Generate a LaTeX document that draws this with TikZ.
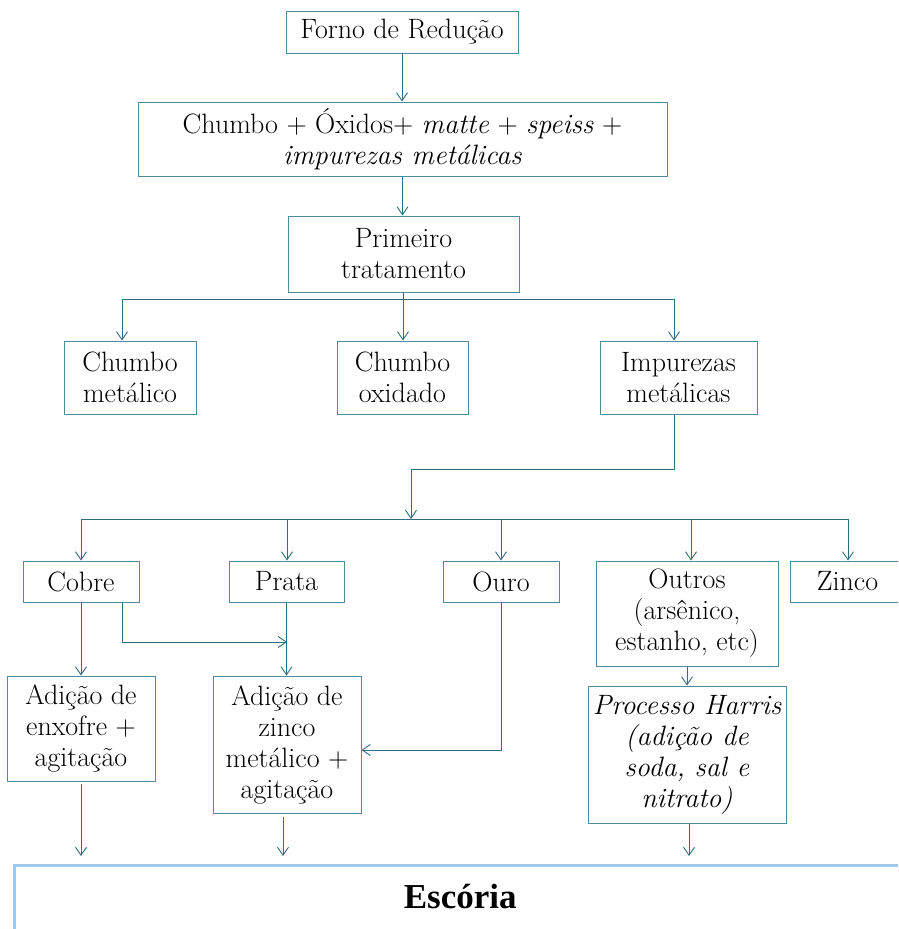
\documentclass[tikz,border=0pt]{standalone}
\usepackage{fontspec}
\newfontfamily\escfont{Liberation Serif}
\usetikzlibrary{arrows.meta,calc}
\definecolor{conn}{RGB}{47,110,128}
\definecolor{boxc}{RGB}{78,140,158}
\definecolor{escc}{RGB}{160,200,235}
\tikzset{
  bx/.style={draw=boxc, line width=1pt, inner sep=0pt, align=center,
    font=\fontsize{28}{31}\selectfont},
  ln/.style={draw=conn, line width=0.9pt},
  ar/.style={ln, -{Straight Barb[length=8pt,width=11pt,line width=0.9pt]}},
}
\begin{document}
\begin{tikzpicture}[x=1pt,y=-1pt]
\useasboundingbox (0,0) rectangle (898,929);
\clip (0,0) rectangle (898,929);
% boxes
\node[bx, minimum width=232, minimum height=42] (forno) at (402,32) {Forno de Redução};
\node[bx, minimum width=529, minimum height=74] (chumbo) at (402.5,139)
  {Chumbo + Óxidos+ \textit{matte} + \textit{speiss} +\\ \textit{impurezas metálicas}};
\node[bx, minimum width=231, minimum height=76] (primeiro) at (403.5,254) {Primeiro\\tratamento};
\node[bx, minimum width=132, minimum height=73] (cmet) at (130,377.5) {Chumbo\\metálico};
\node[bx, minimum width=131, minimum height=73] (cox) at (402.5,377.5) {Chumbo\\oxidado};
\node[bx, minimum width=157, minimum height=73] (imp) at (678.5,377.5) {Impurezas\\metálicas};
\node[bx, minimum width=116, minimum height=41] (cobre) at (81,581.5) {Cobre};
\node[bx, minimum width=115, minimum height=41] (prata) at (286.5,581.5) {Prata};
\node[bx, minimum width=116, minimum height=41] (ouro) at (501,581.5) {Ouro};
\node[bx, minimum width=182, minimum height=105] (outros) at (687,613.5) {Outros\\(arsênico,\\estanho, etc)};
\node[bx, minimum width=115, minimum height=41] (zinco) at (847.5,581.5) {Zinco};
\node[bx, minimum width=148, minimum height=105] (enx) at (81,728.5) {Adição de\\enxofre +\\agitação};
\node[bx, minimum width=148, minimum height=137] (zad) at (287,744.5) {Adição de\\zinco\\metálico +\\agitação};
\node[bx, minimum width=198, minimum height=137] (harris) at (687,754.5)
  {\itshape Processo Harris\\\itshape (adição de\\\itshape soda, sal e\\\itshape nitrato)};
\node[draw=escc, line width=2.5pt, inner sep=0pt, anchor=north west, text width=892pt, align=center,
  font=\escfont\bfseries\fontsize{35}{40}\selectfont] (esc) at (13,864)
  {\rule[-73pt]{0pt}{116pt}Escória};
% coordinates
\coordinate (j1) at (403,299);
\coordinate (h1l) at (122,299);
\coordinate (h1r) at (674,299);
\coordinate (k1) at (674,469);
\coordinate (k2) at (411,469);
\coordinate (h2) at (411,519);
\coordinate (h2l) at (81,519);
\coordinate (h2r) at (848,519);
\coordinate (hp) at (287,519);
\coordinate (ho) at (501,519);
\coordinate (hu) at (691,519);
\coordinate (c1) at (122,642);
\coordinate (p1) at (287,642);
\coordinate (o1) at (501,750);
\coordinate (z1) at (283,0);
\coordinate (r1) at (689,0);
% connectors
\draw[ar] (forno.south) -- (forno.south |- chumbo.north);
\draw[ar] (chumbo.south) -- (chumbo.south |- primeiro.north);
\draw[ln] (primeiro.south -| j1) -- (j1);
\draw[ln] (h1l) -- (h1r);
\draw[ar] (h1l) -- (h1l |- cmet.north);
\draw[ar] (j1) -- (j1 |- cox.north);
\draw[ar] (h1r) -- (h1r |- imp.north);
\draw[ln] (imp.south -| k1) -- (k1) -- (k2);
\draw[ar] (k2) -- (h2);
\draw[ln] (h2l) -- (h2r);
\draw[ar] (h2l) -- (h2l |- cobre.north);
\draw[ar] (hp) -- (hp |- prata.north);
\draw[ar] (ho) -- (ho |- ouro.north);
\draw[ar] (hu) -- (hu |- outros.north);
\draw[ar] (h2r) -- (h2r |- zinco.north);
\draw[ar] (cobre.south) -- (cobre.south |- enx.north);
\draw[ar] (cobre.south -| c1) |- (p1);
\draw[ar] (prata.south) -- (prata.south |- zad.north);
\draw[ar] (ouro.south) |- (zad.east |- o1);
\draw[ar] (outros.south) -- (outros.south |- harris.north);
\draw[ar] ($(enx.south)+(0,2)$) -- ($(enx.south |- esc.north)+(0,-8)$);
\draw[ar] ($(zad.south -| z1)+(0,3)$) -- ($(z1 |- esc.north)+(0,-8)$);
\draw[ar] (harris.south -| r1) -- ($(r1 |- esc.north)+(0,-8)$);
\end{tikzpicture}
\end{document}
